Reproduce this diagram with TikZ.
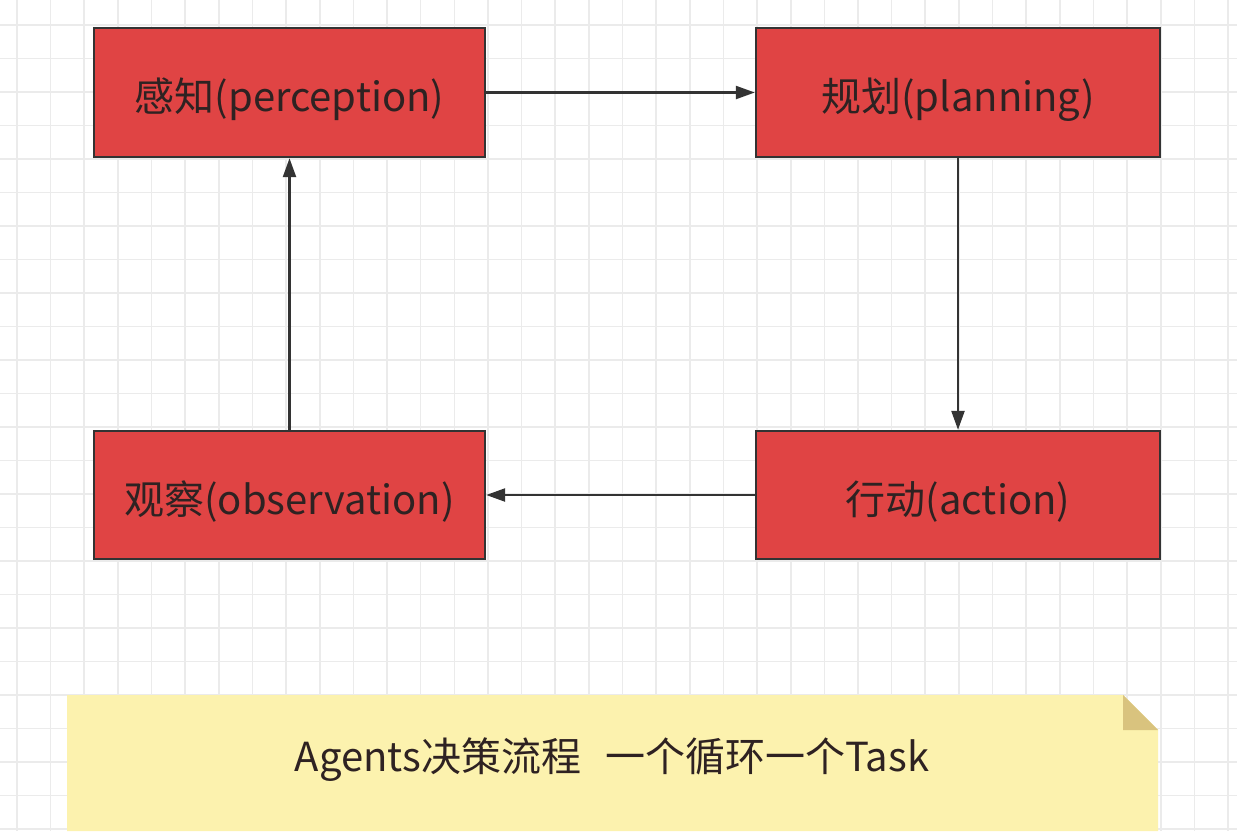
\documentclass[tikz,border=0pt]{standalone}
\usepackage{fontspec}
\setmainfont{Noto Sans CJK SC}
\usetikzlibrary{arrows.meta}
\definecolor{gridc}{HTML}{EBEBEB}
\definecolor{boxred}{HTML}{E04444}
\definecolor{boxline}{HTML}{333333}
\definecolor{txt}{HTML}{2E2222}
\definecolor{notey}{HTML}{FCF2AE}
\definecolor{notefold}{HTML}{D9C37E}
\tikzset{
  stepbox/.style={draw=boxline, line width=2.4pt, fill=boxred, text=txt,
    font=\fontsize{40}{44}\selectfont, inner sep=0pt, text height=46pt, text depth=8pt},
  flow/.style={draw=boxline, line width=2.4pt, -{Triangle[length=19pt,width=13pt]}},
}
\begin{document}
\begin{tikzpicture}[x=1pt,y=-1pt]
\useasboundingbox (0,0) rectangle (1237,831);
\fill[white] (0,0) rectangle (1237,831);
\foreach \i in {0,...,36} \draw[gridc, line width=1.6pt] ({17+\i*33.64},0) -- ++(0,831);
\foreach \j in {0,...,24} \draw[gridc, line width=1.6pt] (0,{25+\j*33.5}) -- ++(1237,0);

\node[stepbox, minimum width=391pt, minimum height=129pt] (per) at (289.5,92.5) {感知(perception)};
\node[stepbox, minimum width=404pt, minimum height=129pt] (pla) at (958,92.5) {规划(planning)};
\node[stepbox, minimum width=404pt, minimum height=128pt] (act) at (958,495) {行动(action)};
\node[stepbox, minimum width=391pt, minimum height=128pt] (obs) at (289.5,495) {观察(observation)};

\draw[flow] (per.east) -- (pla.west);
\draw[flow] (pla.south) -- (act.north);
\draw[flow] (act.west) -- (obs.east);
\draw[flow] (obs.north) -- (per.south);

\fill[notey] (67,695) -- (1123,695) -- (1158,730) -- (1158,831) -- (67,831) -- cycle;
\fill[notefold] (1123,695) -- (1158,730) -- (1123,730) -- cycle;
\node[text=txt, font=\fontsize{40}{44}\selectfont, inner sep=0pt] (note) at (612,760) {Agents决策流程\hspace{0.6em}一个循环一个Task};
\end{tikzpicture}
\end{document}
